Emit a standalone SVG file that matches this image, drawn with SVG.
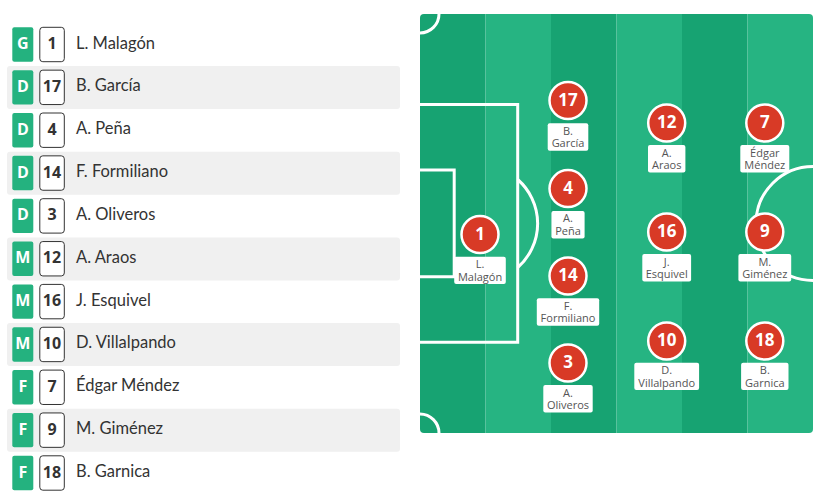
<svg xmlns="http://www.w3.org/2000/svg" width="817" height="497" viewBox="0 0 817 497">
<style>
.row{fill:#f0f0f0}
.pos{fill:#24b27f}
.posT{fill:#fff;font-family:"Open Sans","Liberation Sans",sans-serif;font-weight:bold;font-size:16px;text-anchor:middle}
.num{fill:#fff;stroke:#333;stroke-width:1}
.numT{fill:#333;font-family:"Open Sans","Liberation Sans",sans-serif;font-weight:bold;font-size:16px;text-anchor:middle}
.name{fill:#333;font-family:Lato,"Liberation Sans",sans-serif;font-size:16.5px}
.dark{fill:#17a372}
.light{fill:#26b482}
.line{fill:none;stroke:#fff;stroke-width:3}
.pc{fill:#d83a26;stroke:#fff;stroke-width:2.5}
.pn{fill:#fff;font-family:"Open Sans","Liberation Sans",sans-serif;font-weight:bold;font-size:17px;text-anchor:middle}
.lb{fill:#fff}
.lt{fill:#555;font-family:"Open Sans","Liberation Sans",sans-serif;font-size:11px;text-anchor:middle}
</style>
<defs>
<clipPath id="pitchClip"><rect x="420" y="14" width="393" height="419" rx="4"/></clipPath>
</defs>
<rect width="817" height="497" fill="#fff"/>

<g id="list">
<rect class="row" x="7" y="66" width="393" height="43" rx="3"/>
<rect class="row" x="7" y="151.7" width="393" height="43" rx="3"/>
<rect class="row" x="7" y="237.4" width="393" height="43" rx="3"/>
<rect class="row" x="7" y="323.1" width="393" height="43" rx="3"/>
<rect class="row" x="7" y="408.8" width="393" height="43" rx="3"/>
</g>

<g id="row1" transform="translate(0,44.5)"><rect class="pos" x="12.3" y="-17.2" width="21" height="34.4" rx="2"/><text class="posT" x="22.8" y="4.5">G</text><rect class="num" x="39.8" y="-17.2" width="24.5" height="34.4" rx="3"/><text class="numT" x="52" y="4.5">1</text><text class="name" x="76" y="4">L. Malagón</text></g>
<g id="row2" transform="translate(0,87.35)"><rect class="pos" x="12.3" y="-17.2" width="21" height="34.4" rx="2"/><text class="posT" x="22.8" y="4.5">D</text><rect class="num" x="39.8" y="-17.2" width="24.5" height="34.4" rx="3"/><text class="numT" x="52" y="4.5">17</text><text class="name" x="76" y="4">B. García</text></g>
<g id="row3" transform="translate(0,130.2)"><rect class="pos" x="12.3" y="-17.2" width="21" height="34.4" rx="2"/><text class="posT" x="22.8" y="4.5">D</text><rect class="num" x="39.8" y="-17.2" width="24.5" height="34.4" rx="3"/><text class="numT" x="52" y="4.5">4</text><text class="name" x="76" y="4">A. Peña</text></g>
<g id="row4" transform="translate(0,173.05)"><rect class="pos" x="12.3" y="-17.2" width="21" height="34.4" rx="2"/><text class="posT" x="22.8" y="4.5">D</text><rect class="num" x="39.8" y="-17.2" width="24.5" height="34.4" rx="3"/><text class="numT" x="52" y="4.5">14</text><text class="name" x="76" y="4">F. Formiliano</text></g>
<g id="row5" transform="translate(0,215.9)"><rect class="pos" x="12.3" y="-17.2" width="21" height="34.4" rx="2"/><text class="posT" x="22.8" y="4.5">D</text><rect class="num" x="39.8" y="-17.2" width="24.5" height="34.4" rx="3"/><text class="numT" x="52" y="4.5">3</text><text class="name" x="76" y="4">A. Oliveros</text></g>
<g id="row6" transform="translate(0,258.75)"><rect class="pos" x="12.3" y="-17.2" width="21" height="34.4" rx="2"/><text class="posT" x="22.8" y="4.5">M</text><rect class="num" x="39.8" y="-17.2" width="24.5" height="34.4" rx="3"/><text class="numT" x="52" y="4.5">12</text><text class="name" x="76" y="4">A. Araos</text></g>
<g id="row7" transform="translate(0,301.6)"><rect class="pos" x="12.3" y="-17.2" width="21" height="34.4" rx="2"/><text class="posT" x="22.8" y="4.5">M</text><rect class="num" x="39.8" y="-17.2" width="24.5" height="34.4" rx="3"/><text class="numT" x="52" y="4.5">16</text><text class="name" x="76" y="4">J. Esquivel</text></g>
<g id="row8" transform="translate(0,344.45)"><rect class="pos" x="12.3" y="-17.2" width="21" height="34.4" rx="2"/><text class="posT" x="22.8" y="4.5">M</text><rect class="num" x="39.8" y="-17.2" width="24.5" height="34.4" rx="3"/><text class="numT" x="52" y="4.5">10</text><text class="name" x="76" y="4">D. Villalpando</text></g>
<g id="row9" transform="translate(0,387.3)"><rect class="pos" x="12.3" y="-17.2" width="21" height="34.4" rx="2"/><text class="posT" x="22.8" y="4.5">F</text><rect class="num" x="39.8" y="-17.2" width="24.5" height="34.4" rx="3"/><text class="numT" x="52" y="4.5">7</text><text class="name" x="76" y="4">Édgar Méndez</text></g>
<g id="row10" transform="translate(0,430.15)"><rect class="pos" x="12.3" y="-17.2" width="21" height="34.4" rx="2"/><text class="posT" x="22.8" y="4.5">F</text><rect class="num" x="39.8" y="-17.2" width="24.5" height="34.4" rx="3"/><text class="numT" x="52" y="4.5">9</text><text class="name" x="76" y="4">M. Giménez</text></g>
<g id="row11" transform="translate(0,473)"><rect class="pos" x="12.3" y="-17.2" width="21" height="34.4" rx="2"/><text class="posT" x="22.8" y="4.5">F</text><rect class="num" x="39.8" y="-17.2" width="24.5" height="34.4" rx="3"/><text class="numT" x="52" y="4.5">18</text><text class="name" x="76" y="4">B. Garnica</text></g>

<g id="pitch" clip-path="url(#pitchClip)">
<rect class="dark" x="420" y="14" width="65.5" height="419"/>
<rect class="light" x="485.5" y="14" width="65.5" height="419"/>
<rect class="dark" x="551" y="14" width="65.5" height="419"/>
<rect class="light" x="616.5" y="14" width="65.5" height="419"/>
<rect class="dark" x="682" y="14" width="65.5" height="419"/>
<rect class="light" x="747.5" y="14" width="65.5" height="419"/>
<path class="line" d="M420,104.5 H517.7 V342.3 H420"/>
<path class="line" d="M420,170 H454.2 V276.7 H420"/>
<path class="line" d="M517.7,179.5 A58.5,58.5 0 0 1 517.7,267.5"/>
<circle class="line" cx="813" cy="223.5" r="57"/>
<circle class="line" cx="420" cy="14" r="19"/>
<circle class="line" cx="420" cy="433" r="19"/>
</g>

<g id="p1" transform="translate(480,234.5)"><circle class="pc" r="18.5"/><text class="pn" y="5">1</text><rect class="lb" x="-25.8" y="22.2" width="51.6" height="27.4" rx="2"/><text class="lt"><tspan x="0" y="33.7">L.</tspan><tspan x="0" y="46">Malagón</tspan></text></g>
<g id="p17" transform="translate(568,100.5)"><circle class="pc" r="18.5"/><text class="pn" y="5">17</text><rect class="lb" x="-20.3" y="22.8" width="40.6" height="27.4" rx="2"/><text class="lt"><tspan x="0" y="34.3">B.</tspan><tspan x="0" y="46.6">García</tspan></text></g>
<g id="p4" transform="translate(568,188.6)"><circle class="pc" r="18.5"/><text class="pn" y="5">4</text><rect class="lb" x="-16.6" y="22.4" width="33.2" height="27.4" rx="2"/><text class="lt"><tspan x="0" y="33.9">A.</tspan><tspan x="0" y="46.2">Peña</tspan></text></g>
<g id="p14" transform="translate(568,276)"><circle class="pc" r="18.5"/><text class="pn" y="5">14</text><rect class="lb" x="-31.2" y="22.3" width="62.4" height="27.4" rx="2"/><text class="lt"><tspan x="0" y="33.8">F.</tspan><tspan x="0" y="46.1">Formiliano</tspan></text></g>
<g id="p3" transform="translate(568,363)"><circle class="pc" r="18.5"/><text class="pn" y="5">3</text><rect class="lb" x="-24.7" y="22" width="49.4" height="27.4" rx="2"/><text class="lt"><tspan x="0" y="33.5">A.</tspan><tspan x="0" y="45.8">Oliveros</tspan></text></g>
<g id="p12" transform="translate(666.7,123)"><circle class="pc" r="18.5"/><text class="pn" y="5">12</text><rect class="lb" x="-18.7" y="22" width="37.4" height="27.4" rx="2"/><text class="lt"><tspan x="0" y="33.5">A.</tspan><tspan x="0" y="45.8">Araos</tspan></text></g>
<g id="p16" transform="translate(666.7,232)"><circle class="pc" r="18.5"/><text class="pn" y="5">16</text><rect class="lb" x="-24.4" y="22" width="48.8" height="27.4" rx="2"/><text class="lt"><tspan x="0" y="33.5">J.</tspan><tspan x="0" y="45.8">Esquivel</tspan></text></g>
<g id="p10" transform="translate(666.7,341)"><circle class="pc" r="18.5"/><text class="pn" y="5">10</text><rect class="lb" x="-32.4" y="21.7" width="64.8" height="27.4" rx="2"/><text class="lt"><tspan x="0" y="33.2">D.</tspan><tspan x="0" y="45.5">Villalpando</tspan></text></g>
<g id="p7" transform="translate(764.8,123)"><circle class="pc" r="18.5"/><text class="pn" y="5">7</text><rect class="lb" x="-24.5" y="22" width="49" height="27.4" rx="2"/><text class="lt"><tspan x="0" y="33.5">Édgar</tspan><tspan x="0" y="45.8">Méndez</tspan></text></g>
<g id="p9" transform="translate(764.8,232)"><circle class="pc" r="18.5"/><text class="pn" y="5">9</text><rect class="lb" x="-26.4" y="22" width="52.8" height="27.4" rx="2"/><text class="lt"><tspan x="0" y="33.5">M.</tspan><tspan x="0" y="45.8">Giménez</tspan></text></g>
<g id="p18" transform="translate(764.8,341)"><circle class="pc" r="18.5"/><text class="pn" y="5">18</text><rect class="lb" x="-23.7" y="21.7" width="47.4" height="27.4" rx="2"/><text class="lt"><tspan x="0" y="33.2">B.</tspan><tspan x="0" y="45.5">Garnica</tspan></text></g>
</svg>
